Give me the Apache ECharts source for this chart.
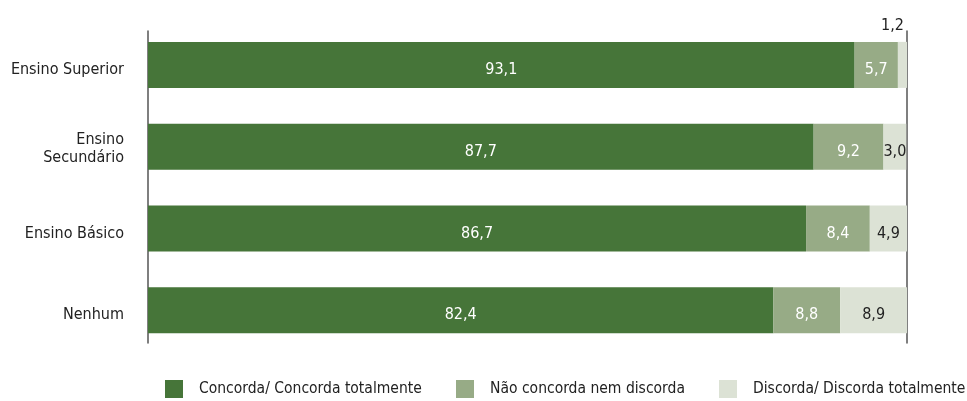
<!DOCTYPE html>
<html>
<head>
<meta charset="utf-8">
<script src="https://cdn.jsdelivr.net/npm/echarts@6/dist/echarts.min.js"></script>
<style>
html,body{margin:0;padding:0;background:#fff;}
#chart{width:967px;height:401px;}
</style>
</head>
<body>
<div id="chart"></div>
<script>
var categories = ['Ensino Superior', 'Ensino\nSecundário', 'Ensino Básico', 'Nenhum'];
var seriesNames = ['Concorda/ Concorda totalmente', 'Não concorda nem discorda', 'Discorda/ Discorda totalmente'];
var concorda = [93.1, 87.7, 86.7, 82.4];
var neutro = [5.7, 9.2, 8.4, 8.8];
var discorda = [1.2, 3.0, 4.9, 8.9];

var FONT = '"Liberation Sans Narrow", "DejaVu Sans Condensed", "Roboto", sans-serif';
var colors = ['#467539', '#97ab86', '#dce2d5'];

function fmt(p) { return Number(p.value).toFixed(1).replace('.', ','); }

function labelFor(color) {
  return {
    show: true,
    position: 'inside',
    formatter: fmt,
    color: color,
    fontFamily: FONT,
    fontSize: 16,
    offset: [0, 5]
  };
}

var discordaData = discorda.map(function (v, i) {
  if (i === 0) {
    return { value: v, label: { position: 'top', distance: 8, offset: [-10, 0] } };
  }
  return v;
});

function legendAt(name, left) {
  return {
    data: [name],
    left: left,
    top: 375,
    itemWidth: 18,
    itemHeight: 18,
    icon: 'rect',
    textStyle: { fontFamily: FONT, fontSize: 15.5, color: '#222', padding: [0, 0, 0, 11] }
  };
}

var chart = echarts.init(document.getElementById('chart'), null, { renderer: 'canvas' });
chart.setOption({
  animation: false,
  backgroundColor: '#ffffff',
  color: colors,
  legend: [
    legendAt(seriesNames[0], 160),
    legendAt(seriesNames[1], 451),
    legendAt(seriesNames[2], 714)
  ],
  grid: [
    { left: 148, right: 60, top: 24, bottom: 50, containLabel: false, outerBoundsMode: 'none' },
    { left: 148, right: 60, top: 31, bottom: 58, containLabel: false, outerBoundsMode: 'none' }
  ],
  xAxis: [
    { type: 'value', gridIndex: 0, min: 0, max: 100, show: false },
    { type: 'value', gridIndex: 1, min: 0, max: 100, show: false }
  ],
  yAxis: [
    {
      type: 'category', gridIndex: 0, data: categories, inverse: true,
      axisLine: { show: false }, axisTick: { show: false },
      axisLabel: {
        margin: 24, color: '#222', fontFamily: FONT, fontSize: 16, align: 'right',
        formatter: function (v) {
          return v.split('\n').map(function (l, i) {
            return (i === 0 ? '{a|' : '{b|') + l + '}';
          }).join('\n');
        },
        rich: {
          a: { fontFamily: FONT, fontSize: 16, color: '#222', lineHeight: 23, padding: [10, 0, 0, 0], align: 'right' },
          b: { fontFamily: FONT, fontSize: 16, color: '#222', lineHeight: 23, align: 'right' }
        }
      }
    },
    {
      type: 'category', gridIndex: 1, data: [''], position: 'left',
      axisLine: { show: true, lineStyle: { color: '#555', width: 1.5 } },
      axisTick: { show: false }, axisLabel: { show: false }
    },
    {
      type: 'category', gridIndex: 1, data: [''], position: 'right',
      axisLine: { show: true, lineStyle: { color: '#555', width: 1.5 } },
      axisTick: { show: false }, axisLabel: { show: false }
    }
  ],
  series: [
    {
      name: seriesNames[0], type: 'bar', stack: 'total', barWidth: 46,
      xAxisIndex: 0, yAxisIndex: 0, data: concorda,
      label: labelFor('#ffffff')
    },
    {
      name: seriesNames[1], type: 'bar', stack: 'total', barWidth: 46,
      xAxisIndex: 0, yAxisIndex: 0, data: neutro,
      label: labelFor('#ffffff')
    },
    {
      name: seriesNames[2], type: 'bar', stack: 'total', barWidth: 46,
      xAxisIndex: 0, yAxisIndex: 0, data: discordaData,
      label: labelFor('#222222')
    }
  ]
});
</script>
</body>
</html>
